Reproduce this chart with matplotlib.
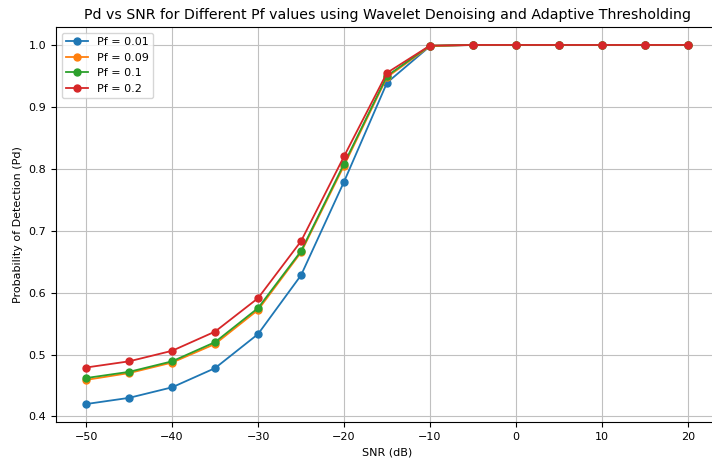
import matplotlib
matplotlib.use('Agg')
import matplotlib.pyplot as plt

snr = [-50, -45, -40, -35, -30, -25, -20, -15, -10, -5, 0, 5, 10, 15, 20]
pf_labels = ['Pf = 0.01', 'Pf = 0.09', 'Pf = 0.1', 'Pf = 0.2']
pd_001 = [0.420, 0.430, 0.447, 0.478, 0.533, 0.628, 0.779, 0.939, 0.998, 1.0, 1.0, 1.0, 1.0, 1.0, 1.0]
pd_009 = [0.459, 0.470, 0.487, 0.517, 0.572, 0.665, 0.805, 0.948, 0.998, 1.0, 1.0, 1.0, 1.0, 1.0, 1.0]
pd_01 = [0.462, 0.472, 0.489, 0.520, 0.575, 0.667, 0.808, 0.950, 0.999, 1.0, 1.0, 1.0, 1.0, 1.0, 1.0]
pd_02 = [0.479, 0.489, 0.506, 0.537, 0.591, 0.683, 0.820, 0.955, 0.999, 1.0, 1.0, 1.0, 1.0, 1.0, 1.0]

fig = plt.figure(figsize=(7.12, 4.59), dpi=100)
ax = fig.add_axes([56 / 712, 37 / 459, 662 / 712, 395 / 459])

for vals, lab in zip([pd_001, pd_009, pd_01, pd_02], pf_labels):
    ax.plot(snr, vals, marker='o', label=lab, linewidth=1.3, markersize=5)

ax.set_title('Pd vs SNR for Different Pf values using Wavelet Denoising and Adaptive Thresholding', fontsize=10.2)
ax.set_xlabel('SNR (dB)', fontsize=8)
ax.set_ylabel('Probability of Detection (Pd)', fontsize=8)
ax.tick_params(labelsize=8)
ax.grid(True, color='#c0c0c0')
ax.legend(loc='upper left', fontsize=8)

fig.savefig('out.png', dpi=100)
